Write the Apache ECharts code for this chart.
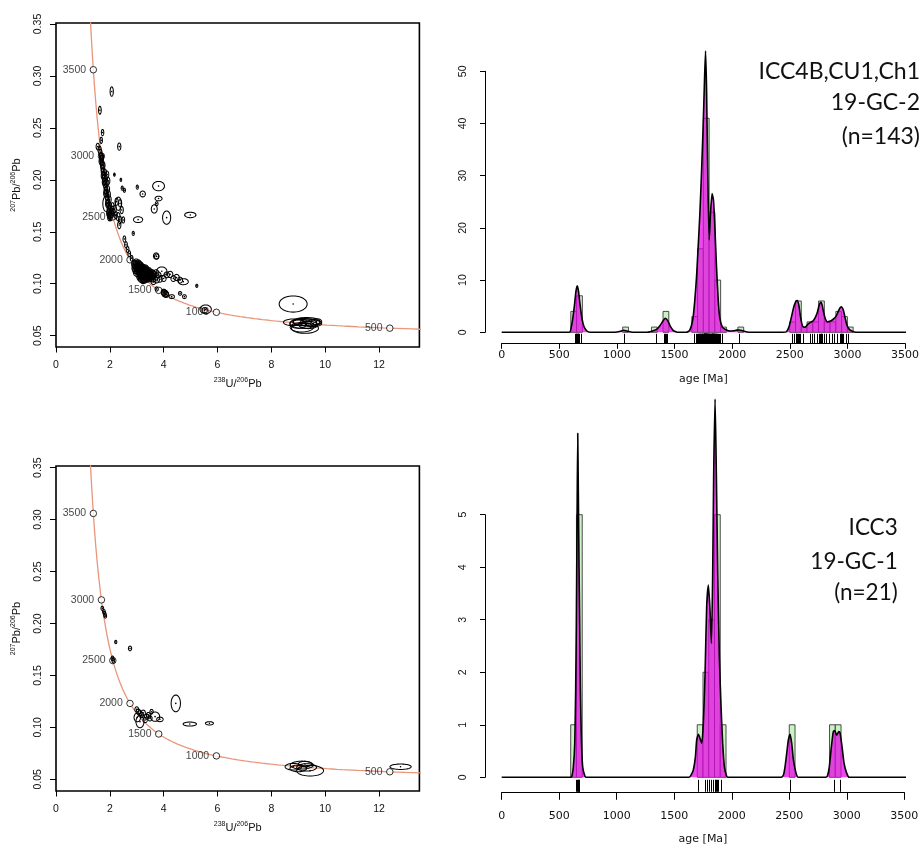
<!DOCTYPE html>
<html>
<head>
<meta charset="utf-8">
<script src="https://cdn.jsdelivr.net/npm/echarts@6/dist/echarts.min.js"></script>
<style>
html, body { margin: 0; padding: 0; background: #fff; }
#chart { width: 922px; height: 848px; }
</style>
</head>
<body>
<div id="chart"></div>
<script>
// ---------- Tera-Wasserburg data: error ellipses [238U/206Pb, 207Pb/206Pb, semi-axis x, semi-axis y] ----------
const ELLIPSES_GC2 = [
  [2.07, 0.285, 0.06, 0.0045], [1.63, 0.267, 0.05, 0.0038], [1.73, 0.2455, 0.045, 0.003],
  [1.68, 0.238, 0.045, 0.003], [1.55, 0.232, 0.06, 0.0032], [2.35, 0.232, 0.06, 0.0035],
  [1.62, 0.229, 0.06, 0.0035], [1.65, 0.226, 0.06, 0.0035], [1.67, 0.223, 0.06, 0.0035],
  [1.69, 0.220, 0.07, 0.0035], [1.70, 0.217, 0.06, 0.0035], [1.72, 0.214, 0.07, 0.0035],
  [1.73, 0.211, 0.06, 0.0035], [1.75, 0.208, 0.07, 0.0035], [1.77, 0.205, 0.06, 0.0035],
  [1.79, 0.202, 0.07, 0.0035], [1.80, 0.199, 0.06, 0.0035], [1.82, 0.196, 0.07, 0.0035],
  [1.84, 0.193, 0.06, 0.0035], [1.86, 0.190, 0.07, 0.0035], [1.87, 0.187, 0.06, 0.0035],
  [1.89, 0.184, 0.07, 0.0035], [1.91, 0.181, 0.06, 0.0035], [1.93, 0.178, 0.07, 0.0035],
  [1.95, 0.175, 0.06, 0.0035], [1.97, 0.172, 0.07, 0.0035], [1.99, 0.169, 0.06, 0.0035],
  [2.01, 0.166, 0.07, 0.0035], [2.03, 0.164, 0.06, 0.0035], [1.76, 0.214, 0.06, 0.0035],
  [1.81, 0.207, 0.07, 0.0035], [1.85, 0.201, 0.06, 0.0035], [1.88, 0.197, 0.06, 0.0035],
  [1.92, 0.191, 0.07, 0.0035], [1.96, 0.186, 0.06, 0.0035], [1.99, 0.181, 0.06, 0.0035],
  [1.90, 0.205, 0.06, 0.0035], [1.94, 0.199, 0.06, 0.0035], [2.00, 0.175, 0.06, 0.0035],
  [2.05, 0.170, 0.06, 0.0035], [2.08, 0.167, 0.06, 0.0035], [1.66, 0.218, 0.06, 0.0035],
  [1.71, 0.222, 0.06, 0.0035], [1.78, 0.198, 0.06, 0.0035], [1.83, 0.187, 0.06, 0.0035],
  [1.90, 0.177, 0.06, 0.0035], [1.97, 0.166, 0.06, 0.0035], [1.74, 0.204, 0.06, 0.0035],
  [1.86, 0.177, 0.12, 0.0074], [2.32, 0.177, 0.11, 0.0064], [2.25, 0.179, 0.06, 0.0035],
  [2.38, 0.1774, 0.06, 0.0035], [2.44, 0.171, 0.06, 0.0035], [2.31, 0.1645, 0.07, 0.004],
  [2.38, 0.1614, 0.06, 0.0035], [2.50, 0.1614, 0.05, 0.003], [2.35, 0.1565, 0.06, 0.0035],
  [2.13, 0.169, 0.06, 0.0035], [2.18, 0.172, 0.06, 0.0035], [2.22, 0.166, 0.06, 0.0035],
  [1.94, 0.168, 0.06, 0.0035], [1.98, 0.164, 0.06, 0.0035], [2.10, 0.1745, 0.06, 0.0035],
  [2.17, 0.205, 0.03, 0.0015], [2.41, 0.200, 0.03, 0.0015], [2.46, 0.192, 0.04, 0.002],
  [2.54, 0.190, 0.04, 0.002], [3.02, 0.193, 0.04, 0.002], [3.81, 0.194, 0.22, 0.0045],
  [3.22, 0.1864, 0.10, 0.0028], [3.81, 0.182, 0.13, 0.0022], [3.65, 0.172, 0.11, 0.004],
  [3.74, 0.177, 0.05, 0.002], [4.11, 0.1636, 0.15, 0.0064], [4.99, 0.1662, 0.21, 0.0026],
  [3.05, 0.1617, 0.17, 0.0028], [2.87, 0.1485, 0.04, 0.002],
  [2.54, 0.143, 0.05, 0.003], [2.60, 0.1375, 0.05, 0.003], [2.66, 0.133, 0.05, 0.003],
  [2.72, 0.129, 0.05, 0.0028], [2.81, 0.1245, 0.05, 0.0028], [3.72, 0.1267, 0.10, 0.003],
  [3.74, 0.1262, 0.08, 0.0025],
  [2.92, 0.1190, 0.11, 0.0034], [2.95, 0.1175, 0.12, 0.0036], [2.97, 0.1160, 0.11, 0.0034],
  [3.00, 0.1185, 0.12, 0.0036], [3.02, 0.1150, 0.12, 0.0034], [3.04, 0.1170, 0.11, 0.0034],
  [3.05, 0.1135, 0.12, 0.0036], [3.07, 0.1155, 0.12, 0.0034], [3.08, 0.1120, 0.11, 0.0034],
  [3.10, 0.1140, 0.12, 0.0036], [3.11, 0.1105, 0.12, 0.0034], [3.12, 0.1165, 0.11, 0.0034],
  [3.13, 0.1125, 0.12, 0.0036], [3.14, 0.1090, 0.12, 0.0034], [3.15, 0.1150, 0.11, 0.0034],
  [3.16, 0.1110, 0.12, 0.0036], [3.17, 0.1075, 0.11, 0.0034], [3.18, 0.1135, 0.12, 0.0034],
  [3.19, 0.1095, 0.12, 0.0036], [3.20, 0.1120, 0.11, 0.0034], [3.21, 0.1060, 0.12, 0.0034],
  [3.22, 0.1100, 0.12, 0.0036], [3.23, 0.1140, 0.11, 0.0034], [3.24, 0.1080, 0.12, 0.0034],
  [3.25, 0.1115, 0.12, 0.0036], [3.26, 0.1050, 0.11, 0.0034], [3.27, 0.1095, 0.12, 0.0034],
  [3.28, 0.1130, 0.12, 0.0036], [3.29, 0.1070, 0.11, 0.0034], [3.30, 0.1105, 0.12, 0.0034],
  [3.31, 0.1045, 0.12, 0.0036], [3.32, 0.1085, 0.11, 0.0034], [3.33, 0.1120, 0.12, 0.0034],
  [3.34, 0.1060, 0.12, 0.0036], [3.35, 0.1095, 0.11, 0.0034], [3.36, 0.1075, 0.12, 0.0034],
  [3.38, 0.1110, 0.12, 0.0036], [3.39, 0.1050, 0.11, 0.0034], [3.40, 0.1085, 0.12, 0.0034],
  [3.42, 0.1065, 0.12, 0.0036], [3.43, 0.1100, 0.11, 0.0034], [3.45, 0.1080, 0.12, 0.0034],
  [3.47, 0.1055, 0.12, 0.0036], [3.48, 0.1095, 0.11, 0.0034], [3.50, 0.1070, 0.12, 0.0034],
  [3.53, 0.1085, 0.12, 0.0036], [3.55, 0.1060, 0.11, 0.0034], [3.58, 0.1075, 0.12, 0.0034],
  [3.60, 0.1050, 0.11, 0.0034], [2.98, 0.1205, 0.11, 0.0034], [3.06, 0.1195, 0.11, 0.0034],
  [3.09, 0.1180, 0.12, 0.0036], [3.14, 0.1175, 0.11, 0.0034], [3.03, 0.1125, 0.12, 0.0036],
  [3.09, 0.1085, 0.12, 0.0034], [3.12, 0.1060, 0.11, 0.0034], [3.18, 0.1045, 0.12, 0.0034],
  [3.23, 0.1035, 0.11, 0.0034], [3.28, 0.1040, 0.12, 0.0034], [3.20, 0.1155, 0.12, 0.0036],
  [3.26, 0.1150, 0.11, 0.0034], [3.32, 0.1145, 0.12, 0.0036], [3.37, 0.1130, 0.11, 0.0034],
  [3.44, 0.1120, 0.12, 0.0036], [3.52, 0.1105, 0.11, 0.0034], [3.57, 0.1100, 0.12, 0.0034],
  [3.62, 0.1085, 0.12, 0.0036], [2.93, 0.1150, 0.11, 0.0034], [2.96, 0.1130, 0.11, 0.0034],
  [3.00, 0.1105, 0.12, 0.0034],
  [3.72, 0.1105, 0.10, 0.0030], [3.80, 0.1085, 0.10, 0.0028], [3.93, 0.1120, 0.19, 0.0042],
  [3.86, 0.1043, 0.09, 0.0028], [3.74, 0.1036, 0.10, 0.0028], [3.62, 0.1020, 0.09, 0.0028],
  [4.11, 0.1085, 0.10, 0.0028], [4.24, 0.1090, 0.10, 0.0030], [4.36, 0.1050, 0.09, 0.0028],
  [4.48, 0.1060, 0.10, 0.0030], [4.61, 0.1035, 0.09, 0.0028], [4.73, 0.1020, 0.185, 0.0029],
  [5.23, 0.0980, 0.04, 0.0015], [4.00, 0.1050, 0.09, 0.0028],
  [4.02, 0.0915, 0.10, 0.0028], [4.07, 0.0900, 0.10, 0.0028], [4.05, 0.0905, 0.12, 0.0032],
  [4.00, 0.0920, 0.09, 0.0028], [4.10, 0.0895, 0.09, 0.0026], [4.30, 0.0876, 0.10, 0.0019],
  [4.61, 0.0907, 0.06, 0.0018], [4.77, 0.0876, 0.07, 0.0019], [3.74, 0.0950, 0.06, 0.0020],
  [5.56, 0.0754, 0.21, 0.0042], [5.52, 0.0745, 0.10, 0.0025],
  [8.81, 0.0805, 0.52, 0.0078],
  [8.82, 0.0629, 0.37, 0.0032], [9.19, 0.0619, 0.50, 0.0048], [9.31, 0.0635, 0.50, 0.0040],
  [9.44, 0.0625, 0.37, 0.0035], [9.13, 0.0581, 0.43, 0.0045], [9.25, 0.0571, 0.50, 0.0048],
  [9.56, 0.0619, 0.31, 0.0032], [9.00, 0.0612, 0.31, 0.0040], [9.68, 0.0635, 0.19, 0.0029],
  [9.37, 0.0603, 0.35, 0.0035], [9.08, 0.0627, 0.28, 0.0030]
];

const ELLIPSES_GC1 = [
  [1.72, 0.2146, 0.05, 0.0020], [1.78, 0.2114, 0.05, 0.0020], [1.81, 0.2091, 0.05, 0.0022],
  [1.83, 0.2072, 0.05, 0.0020], [2.22, 0.1822, 0.04, 0.0016], [2.75, 0.1760, 0.06, 0.0022],
  [2.10, 0.1664, 0.05, 0.0022], [2.13, 0.1642, 0.05, 0.0022],
  [4.45, 0.1231, 0.173, 0.0080], [4.97, 0.1032, 0.248, 0.0019], [5.70, 0.1039, 0.149, 0.0016],
  [12.80, 0.0621, 0.396, 0.0026],
  [3.00, 0.1173, 0.07, 0.0025], [3.06, 0.1151, 0.08, 0.0025], [3.12, 0.1135, 0.08, 0.0025],
  [3.18, 0.1119, 0.07, 0.0025], [3.24, 0.1141, 0.08, 0.0025], [3.12, 0.1055, 0.15, 0.0058],
  [3.37, 0.1103, 0.08, 0.0025], [3.49, 0.1087, 0.08, 0.0025], [3.55, 0.1151, 0.06, 0.0022],
  [3.68, 0.1103, 0.17, 0.0045], [3.86, 0.1077, 0.12, 0.0022], [3.43, 0.1119, 0.07, 0.0025],
  [3.31, 0.1071, 0.08, 0.0025], [3.02, 0.1096, 0.12, 0.0042],
  [8.82, 0.0621, 0.31, 0.0032], [9.13, 0.0637, 0.43, 0.0038], [9.31, 0.0615, 0.37, 0.0035],
  [9.44, 0.0583, 0.50, 0.0051], [9.00, 0.0605, 0.31, 0.0032], [9.25, 0.0647, 0.25, 0.0026]
];

// Ages (Ma) marked on the concordia line
const CONCORDIA_MARK_AGES = [500, 1000, 1500, 2000, 2500, 3000, 3500];
const TW_X_TICKS = [0, 2, 4, 6, 8, 10, 12];
const TW_Y_TICKS = [0.05, 0.10, 0.15, 0.20, 0.25, 0.30, 0.35];

// ---------- Age spectra: histogram (50 Ma bins), KDE, individual ages ----------
const BIN_WIDTH = 50;
const GC2_BIN_START = [600, 650, 1050, 1300, 1400, 1650, 1700, 1750, 1800, 1850, 1900, 2050,
  2500, 2550, 2600, 2650, 2700, 2750, 2800, 2850, 2900, 2950, 3000];
const GC2_BIN_COUNT = [4, 7, 1, 1, 4, 3, 16, 41, 23, 10, 1, 1,
  2, 6, 1, 2, 2, 6, 2, 2, 4, 3, 1];
const GC1_BIN_START = [600, 650, 1700, 1750, 1800, 1850, 1900, 2500, 2850, 2900];
const GC1_BIN_COUNT = [1, 5, 1, 2, 3, 5, 1, 1, 1, 1];

const GC2_KDE = [
  [0, 0], [560, 0], [592, 0.05], [615, 2.4], [633, 5.5], [644, 7.8], [656, 8.9], [667, 7.8],
  [679, 5.5], [696, 2.7], [714, 1.1], [737, 0.3], [766, 0], [960, 0], [1000, 0.05], [1030, 0.2],
  [1055, 0.38], [1080, 0.3], [1110, 0.12], [1150, 0], [1260, 0], [1286, 0.08], [1315, 0.3],
  [1344, 0.57], [1373, 1.27], [1396, 2.04], [1419, 2.68], [1442, 2.2], [1465, 1.08], [1488, 0.38],
  [1517, 0.05], [1540, 0], [1600, 0], [1620, 0.15], [1633, 0.45], [1648, 1.4], [1662, 3.0],
  [1676, 6.2], [1691, 10.7], [1705, 16.4], [1720, 22.8], [1734, 30.5], [1749, 40.0], [1760, 48.3],
  [1769, 53.9], [1778, 46.4], [1789, 29.2], [1801, 17.7], [1812, 22.8], [1826, 26.6], [1838, 25.3],
  [1850, 20.2], [1864, 12.6], [1879, 6.2], [1893, 2.7], [1916, 0.95], [1951, 0.44], [1980, 0.25],
  [2010, 0.3], [2040, 0.42], [2062, 0.45], [2085, 0.35], [2120, 0.12], [2160, 0], [2440, 0],
  [2471, 0.1], [2494, 1.1], [2515, 3.0], [2535, 4.9], [2552, 5.9], [2564, 6.1], [2579, 5.2],
  [2593, 3.0], [2608, 1.4], [2622, 0.96], [2640, 1.1], [2660, 1.6], [2680, 1.9], [2703, 2.2],
  [2723, 2.9], [2741, 3.95], [2755, 5.2], [2770, 5.8], [2781, 5.2], [2796, 3.6], [2810, 2.5],
  [2827, 2.0], [2848, 2.1], [2877, 2.5], [2900, 3.0], [2920, 3.95], [2934, 4.6], [2946, 4.9],
  [2964, 4.3], [2981, 2.7], [2999, 1.2], [3022, 0.45], [3051, 0.12], [3094, 0], [3642, 0]
];

const GC1_KDE = [
  [0, 0], [600, 0], [610, 0.02], [623, 0.2], [635, 0.65], [643, 1.66], [649, 2.93], [655, 4.83],
  [661, 6.55], [666, 5.47], [672, 4.07], [678, 2.93], [684, 1.66], [693, 0.71], [704, 0.2],
  [724, 0.02], [740, 0], [1630, 0], [1648, 0.05], [1666, 0.14], [1684, 0.39], [1695, 0.71],
  [1710, 0.82], [1724, 0.74], [1739, 0.65], [1753, 1.03], [1768, 1.98], [1782, 3.25], [1797, 3.66],
  [1811, 3.18], [1823, 2.55], [1834, 3.82], [1843, 5.79], [1855, 7.2], [1866, 5.79], [1878, 3.88],
  [1892, 2.3], [1907, 1.34], [1921, 0.65], [1936, 0.2], [1956, 0.02], [1970, 0], [2430, 0],
  [2450, 0.05], [2463, 0.2], [2478, 0.46], [2492, 0.71], [2507, 0.82], [2521, 0.65], [2536, 0.33],
  [2559, 0.08], [2579, 0], [2820, 0], [2835, 0.05], [2848, 0.2], [2866, 0.58], [2883, 0.87],
  [2895, 0.89], [2912, 0.8], [2930, 0.87], [2941, 0.85], [2959, 0.58], [2976, 0.27], [2999, 0.08],
  [3022, 0], [3602, 0]
];

const GC2_AGES = [
  640, 644, 646, 649, 652, 655, 658, 661, 665, 672, 690,
  1063, 1340, 1405, 1415, 1426, 1438, 1672, 1685, 1695,
  1703, 1706, 1710, 1712, 1716, 1719, 1722, 1725, 1727, 1731, 1734, 1737, 1740, 1742, 1745, 1748,
  1751, 1752, 1753, 1754, 1755, 1756, 1757, 1758, 1759, 1760, 1761, 1762, 1763, 1764, 1765,
  1766, 1767, 1768, 1769, 1770, 1771, 1772, 1773, 1774, 1775, 1776, 1777, 1778, 1779,
  1781, 1783, 1784, 1786, 1787, 1789, 1790, 1792, 1794, 1795, 1797, 1799,
  1802, 1806, 1809, 1812, 1815, 1817, 1819, 1821, 1823, 1825, 1826, 1828, 1829, 1831, 1832,
  1834, 1836, 1838, 1840, 1842, 1844, 1846, 1849,
  1852, 1855, 1858, 1861, 1864, 1868, 1872, 1877, 1884, 1893, 1912, 2063,
  2522, 2541, 2553, 2558, 2563, 2570, 2578, 2592, 2612, 2676, 2695, 2712, 2733,
  2754, 2761, 2767, 2772, 2781, 2793, 2818, 2841, 2866, 2885,
  2912, 2932, 2941, 2947, 2953, 2963, 2988, 3008
];
const GC1_AGES = [645, 655, 660, 664, 668, 675, 1705, 1768, 1785, 1805, 1822, 1838,
  1852, 1858, 1864, 1872, 1880, 1908, 2507, 2885, 2940];

// ---------- Concordia (Tera-Wasserburg) from the U decay constants ----------
const LAMBDA_238 = 1.55125e-4;   // per Myr
const LAMBDA_235 = 9.8485e-4;    // per Myr
const U238_U235 = 137.818;
function twPoint(t) {
  const e8 = Math.exp(LAMBDA_238 * t) - 1;
  const e5 = Math.exp(LAMBDA_235 * t) - 1;
  return [1 / e8, e5 / e8 / U238_U235];
}
const concordiaLine = [];
for (let t = 430; t <= 3850; t += 10) concordiaLine.push(twPoint(t));
const concordiaMarks = CONCORDIA_MARK_AGES.map(t => twPoint(t).concat([t]));

// ---------- styling ----------
const AX_FONT = '"Liberation Sans", Arial, Helvetica, sans-serif';
const WIDE_FONT = '"DejaVu Sans", sans-serif';
const TXT = '#111';
const KDE_FILL = 'rgba(230, 0, 230, 0.72)';
const BAR_FILL = '#c9f3c2';

function renderEllipse(params, api) {
  const cx = api.value(0), cy = api.value(1), sx = api.value(2), sy = api.value(3);
  const pts = [];
  for (let k = 0; k < 48; k++) {
    const a = 2 * Math.PI * k / 48;
    pts.push(api.coord([cx + sx * Math.cos(a), cy + sy * Math.sin(a)]));
  }
  const c = api.coord([cx, cy]);
  return {
    type: 'group',
    children: [
      { type: 'polygon', shape: { points: pts }, style: { fill: null, stroke: '#000', lineWidth: 1.05 } },
      { type: 'circle', shape: { cx: c[0], cy: c[1], r: 0.8 }, style: { fill: '#000' } }
    ]
  };
}
function renderBin(params, api) {
  const p0 = api.coord([api.value(0), api.value(2)]);
  const p1 = api.coord([api.value(1), 0]);
  return {
    type: 'rect',
    shape: { x: p0[0], y: p0[1], width: p1[0] - p0[0], height: p1[1] - p0[1] },
    style: { fill: BAR_FILL, stroke: '#3a3a3a', lineWidth: 0.9 }
  };
}
function rugRenderer(gap, len) {
  return function (params, api) {
    const p = api.coord([api.value(0), 0]);
    const x = Math.round(p[0]) + 0.5;
    return { type: 'line', shape: { x1: x, y1: p[1] + gap, x2: x, y2: p[1] + gap + len },
      style: { stroke: '#000', lineWidth: 1 } };
  };
}
const binsOf = (starts, counts) => starts.map((s, i) => [s, s + BIN_WIDTH, counts[i]]);

const supRich = {
  s: { fontSize: 7, lineHeight: 8, verticalAlign: 'top', fontFamily: AX_FONT, color: TXT },
  n: { fontSize: 11, lineHeight: 14, fontFamily: AX_FONT, color: TXT }
};
function twX(grid) {
  return {
    gridIndex: grid, type: 'value', min: 0, max: 13.5,
    axisLine: { show: false, onZero: false }, splitLine: { show: false },
    axisTick: { show: true, length: 5.5, lineStyle: { color: '#000', width: 1 }, customValues: TW_X_TICKS },
    axisLabel: { customValues: TW_X_TICKS, margin: 13, fontSize: 10.5, color: TXT, fontFamily: AX_FONT },
    name: '{s|238}{n|U/}{s|206}{n|Pb}', nameLocation: 'middle', nameGap: 30,
    nameTextStyle: { rich: supRich }
  };
}
function twY(grid, min, max) {
  return {
    gridIndex: grid, type: 'value', min: min, max: max,
    axisLine: { show: false, onZero: false }, splitLine: { show: false },
    axisTick: { show: true, length: 6, lineStyle: { color: '#000', width: 1 }, customValues: TW_Y_TICKS },
    axisLabel: { customValues: TW_Y_TICKS, margin: 12, rotate: 90, fontSize: 10.5, color: TXT,
      fontFamily: AX_FONT, formatter: v => v.toFixed(2) },
    name: '{s|207}{n|Pb/}{s|206}{n|Pb}', nameLocation: 'middle', nameGap: 32, nameRotate: 90,
    nameTextStyle: { rich: supRich }
  };
}
function kdeX(grid, offset, tickLen, margin, nameGap) {
  return {
    gridIndex: grid, type: 'value', min: 0, max: 3500, interval: 500, offset: offset,
    axisLine: { show: true, onZero: false, lineStyle: { color: '#000', width: 1 } },
    axisTick: { show: true, length: tickLen, lineStyle: { color: '#000', width: 1 } },
    splitLine: { show: false },
    axisLabel: { margin: margin, fontSize: 11, color: TXT, fontFamily: WIDE_FONT, formatter: v => String(v) },
    name: 'age [Ma]', nameLocation: 'middle', nameGap: nameGap,
    nameTextStyle: { fontSize: 11, color: TXT, fontFamily: WIDE_FONT }
  };
}
function kdeY(grid, max, interval) {
  return {
    gridIndex: grid, type: 'value', min: 0, max: max, interval: interval, offset: 16.7,
    axisLine: { show: true, onZero: false, lineStyle: { color: '#000', width: 1 } },
    axisTick: { show: true, length: 5, lineStyle: { color: '#000', width: 1 } },
    splitLine: { show: false },
    axisLabel: { margin: 16, rotate: 90, fontSize: 10.5, color: TXT, fontFamily: AX_FONT }
  };
}

const GRID_BORDER = { show: true, borderColor: '#000', borderWidth: 1.6, backgroundColor: 'transparent' };

const option = {
  animation: false,
  backgroundColor: '#fff',
  grid: [
    Object.assign({ left: 56, top: 23, width: 363.4, height: 324 }, GRID_BORDER),
    { left: 501.7, top: 71.3, width: 403.6, height: 261 },
    Object.assign({ left: 56, top: 466, width: 363.4, height: 325 }, GRID_BORDER),
    { left: 501.7, top: 514.7, width: 402.6, height: 262.6 }
  ],
  xAxis: [
    twX(0),
    kdeX(1, 11, 5.5, 6, 30),
    twX(2),
    kdeX(3, 15, 7.5, 18, 41)
  ],
  yAxis: [
    twY(0, 0.03912, 0.35096),
    kdeY(1, 50, 10),
    twY(2, 0.03874, 0.35164),
    kdeY(3, 5, 1)
  ],
  series: [
    // upper concordia diagram (19-GC-2)
    { type: 'line', xAxisIndex: 0, yAxisIndex: 0, data: concordiaLine, showSymbol: false, silent: true,
      lineStyle: { color: '#E9967A', width: 1.3 }, z: 2 },
    { type: 'scatter', xAxisIndex: 0, yAxisIndex: 0, data: concordiaMarks, symbol: 'circle', symbolSize: 6.5,
      itemStyle: { color: '#fff', borderColor: '#000', borderWidth: 1 }, z: 3, silent: true,
      label: { show: true, position: 'left', distance: 3.5, formatter: p => String(p.data[2]),
        fontSize: 10.5, color: '#111', fontFamily: AX_FONT } },
    { type: 'custom', xAxisIndex: 0, yAxisIndex: 0, data: ELLIPSES_GC2, renderItem: renderEllipse, z: 4, silent: true },

    // lower concordia diagram (19-GC-1)
    { type: 'line', xAxisIndex: 2, yAxisIndex: 2, data: concordiaLine, showSymbol: false, silent: true,
      lineStyle: { color: '#E9967A', width: 1.3 }, z: 2 },
    { type: 'scatter', xAxisIndex: 2, yAxisIndex: 2, data: concordiaMarks, symbol: 'circle', symbolSize: 6.5,
      itemStyle: { color: '#fff', borderColor: '#000', borderWidth: 1 }, z: 3, silent: true,
      label: { show: true, position: 'left', distance: 3.5, formatter: p => String(p.data[2]),
        fontSize: 10.5, color: '#111', fontFamily: AX_FONT } },
    { type: 'custom', xAxisIndex: 2, yAxisIndex: 2, data: ELLIPSES_GC1, renderItem: renderEllipse, z: 4, silent: true },

    // upper age spectrum
    { type: 'custom', xAxisIndex: 1, yAxisIndex: 1, data: binsOf(GC2_BIN_START, GC2_BIN_COUNT),
      renderItem: renderBin, z: 2, silent: true, clip: false },
    { type: 'line', xAxisIndex: 1, yAxisIndex: 1, data: GC2_KDE, showSymbol: false, clip: false, silent: true,
      smooth: 0.2, lineStyle: { color: '#000', width: 1.6 }, areaStyle: { color: KDE_FILL, opacity: 1 }, z: 3 },
    { type: 'custom', xAxisIndex: 1, yAxisIndex: 1, data: GC2_AGES.map(a => [a, 0]),
      renderItem: rugRenderer(1.5, 9.5), z: 4, silent: true, clip: false },

    // lower age spectrum
    { type: 'custom', xAxisIndex: 3, yAxisIndex: 3, data: binsOf(GC1_BIN_START, GC1_BIN_COUNT),
      renderItem: renderBin, z: 2, silent: true, clip: false },
    { type: 'line', xAxisIndex: 3, yAxisIndex: 3, data: GC1_KDE, showSymbol: false, clip: false, silent: true,
      smooth: 0.2, lineStyle: { color: '#000', width: 1.6 }, areaStyle: { color: KDE_FILL, opacity: 1 }, z: 3 },
    { type: 'custom', xAxisIndex: 3, yAxisIndex: 3, data: GC1_AGES.map(a => [a, 0]),
      renderItem: rugRenderer(2.5, 12), z: 4, silent: true, clip: false }
  ],
  graphic: [
    { type: 'text', x: 920, y: 71.7, style: { text: 'ICC4B,CU1,Ch1', fontFamily: 'Lato', fontSize: 23,
      fill: TXT, align: 'right', verticalAlign: 'middle' } },
    { type: 'text', x: 920, y: 102.7, style: { text: '19-GC-2', fontFamily: 'Lato', fontSize: 23,
      fill: TXT, align: 'right', verticalAlign: 'middle' } },
    { type: 'text', x: 920, y: 136.5, style: { text: '(n=143)', fontFamily: 'Lato', fontSize: 23,
      fill: TXT, align: 'right', verticalAlign: 'middle' } },
    { type: 'text', x: 897.7, y: 527.3, style: { text: 'ICC3', fontFamily: 'Lato', fontSize: 22.5,
      fill: TXT, align: 'right', verticalAlign: 'middle' } },
    { type: 'text', x: 897.7, y: 561.7, style: { text: '19-GC-1', fontFamily: 'Lato', fontSize: 22.5,
      fill: TXT, align: 'right', verticalAlign: 'middle' } },
    { type: 'text', x: 897.7, y: 593, style: { text: '(n=21)', fontFamily: 'Lato', fontSize: 22.5,
      fill: TXT, align: 'right', verticalAlign: 'middle' } }
  ]
};

const chart = echarts.init(document.getElementById('chart'), null, { renderer: 'canvas' });
chart.setOption(option);
</script>
</body>
</html>
